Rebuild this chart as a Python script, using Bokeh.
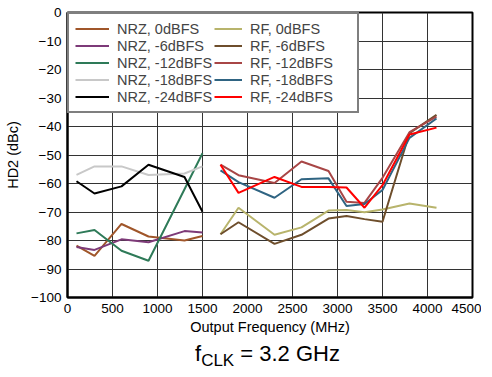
from bokeh.plotting import figure
from bokeh.models import Legend, LegendItem, FixedTicker, Range1d, Div
from bokeh.layouts import column
from bokeh.embed import file_html
from bokeh.resources import INLINE

nrz_freq = [100, 300, 600, 900, 1300, 1500]
nrz_0 = [-81.8, -85.4, -74.2, -78.6, -80.0, -78.4]
nrz_m6 = [-82.3, -83.3, -79.6, -80.6, -76.7, -77.2]
nrz_m12 = [-77.5, -76.3, -83.6, -87.1, -62.0, -49.4]
nrz_m18 = [-57.0, -54.0, -54.0, -57.0, -56.5, -54.0]
nrz_m24 = [-59.2, -63.5, -61.0, -53.4, -57.7, -69.9]

rf_freq = [1700, 1900, 2300, 2600, 2900, 3100, 3300, 3500, 3800, 4100]
rf_0 = [-77.8, -68.5, -78.0, -75.4, -69.5, -69.3, -70.1, -69.1, -67.0, -68.5]
rf_m6 = [-77.8, -73.6, -81.2, -78.0, -72.3, -71.4, -72.5, -73.4, -42.3, -35.9]
rf_m12 = [-53.4, -57.1, -59.8, -52.3, -55.6, -66.4, -66.8, -58.0, -42.0, -36.5]
rf_m18 = [-55.4, -59.5, -65.0, -58.5, -58.2, -67.9, -67.2, -62.3, -44.0, -37.2]
rf_m24 = [-53.4, -63.3, -57.7, -61.2, -61.2, -61.4, -68.5, -60.6, -42.8, -40.4]

x_ticks = [0, 500, 1000, 1500, 2000, 2500, 3000, 3500, 4000, 4500]
y_ticks = [-100, -90, -80, -70, -60, -50, -40, -30, -20, -10, 0]

series = [
    ("NRZ, 0dBFS", nrz_freq, nrz_0, "#A0562A"),
    ("NRZ, -6dBFS", nrz_freq, nrz_m6, "#7D3A78"),
    ("NRZ, -12dBFS", nrz_freq, nrz_m12, "#2E7A58"),
    ("NRZ, -18dBFS", nrz_freq, nrz_m18, "#C8C8C8"),
    ("NRZ, -24dBFS", nrz_freq, nrz_m24, "#000000"),
    ("RF, 0dBFS", rf_freq, rf_0, "#B8B46C"),
    ("RF, -6dBFS", rf_freq, rf_m6, "#6E4E2C"),
    ("RF, -12dBFS", rf_freq, rf_m12, "#A84646"),
    ("RF, -18dBFS", rf_freq, rf_m18, "#2F6482"),
    ("RF, -24dBFS", rf_freq, rf_m24, "#FF0000"),
]

FONT = "Liberation Sans"

p = figure(width=481, height=337, output_backend="svg", toolbar_location=None,
           x_range=Range1d(0, 4500), y_range=Range1d(-100, 0),
           min_border_left=67, min_border_right=9, min_border_top=12, min_border_bottom=38)
p.background_fill_color = "white"
p.border_fill_color = "white"
p.outline_line_color = "black"
p.outline_line_width = 2

p.xaxis.ticker = FixedTicker(ticks=x_ticks)
p.yaxis.ticker = FixedTicker(ticks=y_ticks)
p.xaxis.minor_tick_line_color = None
p.yaxis.minor_tick_line_color = None
p.xaxis.major_tick_line_color = None
p.yaxis.major_tick_line_color = None
p.xaxis.major_tick_out = 0
p.yaxis.major_tick_out = 0
p.xaxis.major_tick_in = 0
p.yaxis.major_tick_in = 0
for ax in (p.xaxis[0], p.yaxis[0]):
    ax.axis_line_width = 2
    ax.axis_line_color = "black"
    ax.major_label_text_font = FONT
    ax.major_label_text_font_size = "13.5px"
    ax.major_label_text_color = "black"
    ax.axis_label_text_font = FONT
    ax.axis_label_text_font_size = "14.5px"
    ax.axis_label_text_font_style = "normal"
    ax.axis_label_text_color = "black"
p.xaxis.axis_label = "Output Frequency (MHz)"
p.yaxis.axis_label = "HD2 (dBc)"
p.xaxis.major_label_standoff = 6
p.xaxis.axis_label_standoff = 3
p.yaxis.major_label_standoff = 6
p.yaxis.axis_label_standoff = 7

p.xgrid.grid_line_color = "#333333"
p.ygrid.grid_line_color = "#333333"
p.xgrid.grid_line_width = 1
p.ygrid.grid_line_width = 1

items = []
for name, xs, ys, col in series:
    r = p.line(xs, ys, line_color=col, line_width=2)
    items.append(LegendItem(label=name, renderers=[r]))

common = dict(orientation="vertical", padding=6, margin=0, spacing=0,
              label_height=17, glyph_height=17,
              label_text_font=FONT, label_text_font_size="14.5px")

legend_a = Legend(items=items[:5], location="top_left", label_width=234,
                  glyph_width=34, label_standoff=8,
                  border_line_color="black", border_line_width=2,
                  background_fill_color="white", background_fill_alpha=1, **common)
legend_b = Legend(items=items[5:], location=(147, 192), label_width=20,
                  glyph_width=28, label_standoff=8,
                  border_line_color=None, background_fill_alpha=0, **common)
p.add_layout(legend_a, "center")
p.add_layout(legend_b, "center")

title = Div(
    text=("<div style=\"font-family:'Liberation Sans';font-size:22px;color:black;"
          "padding-left:190px;line-height:24px;white-space:nowrap\">"
          "f<sub style=\"font-size:17px;vertical-align:-5px\">CLK</sub> = 3.2 GHz</div>"),
    width=481, height=27)

layout = column(p, title, spacing=0)
open("out.html", "w").write(file_html(layout, INLINE))
